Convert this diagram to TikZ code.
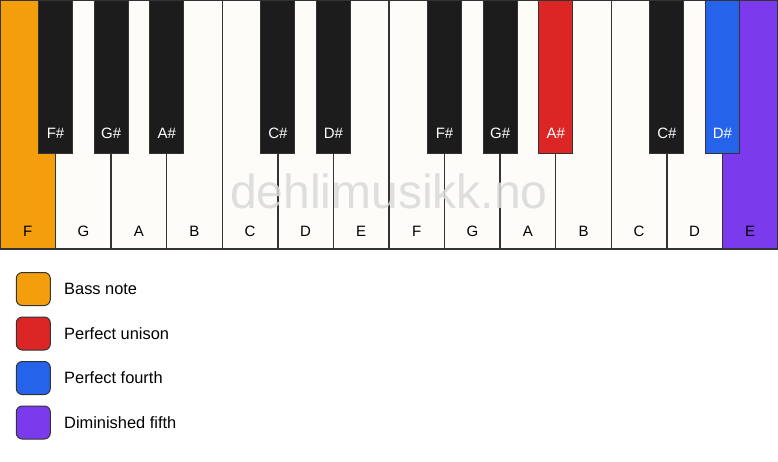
\documentclass[tikz,border=0pt]{standalone}
\usepackage{fontspec}
\setmainfont{Liberation Sans}
\definecolor{keywhite}{HTML}{FDFCF9}
\definecolor{keyblack}{HTML}{1C1C1C}
\definecolor{keyline}{HTML}{333333}
\definecolor{bassc}{HTML}{F59E0B}
\definecolor{unisonc}{HTML}{DC2626}
\definecolor{fourthc}{HTML}{2563EB}
\definecolor{dimc}{HTML}{7C3AED}
\definecolor{markc}{HTML}{D9D9D9}
\begin{document}
\begin{tikzpicture}[x=1pt,y=-1pt,
  whitekey/.style={draw=keyline,line width=1.3pt,fill=keywhite,minimum width=55.571pt,minimum height=249pt,inner sep=0pt,anchor=north west,outer sep=0pt},
  blackkey/.style={draw=keyline,line width=1pt,fill=keyblack,minimum width=34pt,minimum height=153pt,inner sep=0pt,anchor=north,outer sep=0pt},
  wlabel/.style={font=\fontsize{15}{18}\selectfont,text=black},
  blabel/.style={font=\fontsize{15}{18}\selectfont,text=white},
  legbox/.style={draw=keyline,line width=1pt,rounded corners=6pt,minimum width=34pt,minimum height=33pt,inner sep=0pt},
  legtext/.style={font=\fontsize{16.4}{19}\selectfont,anchor=west,inner sep=0pt}]
\useasboundingbox (0,0) rectangle (778,461);
\fill[white] (0,0) rectangle (778,461);
\def\w{55.571}
% white keys
\foreach \n/\l/\c in {0/F/bassc,1/G/keywhite,2/A/keywhite,3/B/keywhite,4/C/keywhite,5/D/keywhite,6/E/keywhite,7/F/keywhite,8/G/keywhite,9/A/keywhite,10/B/keywhite,11/C/keywhite,12/D/keywhite,13/E/dimc}{
  \node[whitekey,fill=\c] (w\n) at (\n*\w,0) {};
  \node[wlabel] (wl\n) at (\n*\w+\w/2,231) {\l};
}
% watermark
\node[font=\fontsize{48}{52}\selectfont,text=markc,opacity=0.85,anchor=base] (mark) at (389,208) {dehlimusikk.no};
% black keys
\foreach \n/\l/\c in {1/F\#/keyblack,2/G\#/keyblack,3/A\#/keyblack,5/C\#/keyblack,6/D\#/keyblack,8/F\#/keyblack,9/G\#/keyblack,10/A\#/unisonc,12/C\#/keyblack,13/D\#/fourthc}{
  \node[blackkey,fill=\c] (b\n) at (\n*\w,0) {};
  \node[blabel] (bl\n) at (\n*\w,133) {\l};
}
% legend
\foreach \i/\c/\t in {0/bassc/Bass note,1/unisonc/Perfect unison,2/fourthc/Perfect fourth,3/dimc/Diminished fifth}{
  \node[legbox,fill=\c] (lb\i) at (33.3,289+44.5*\i) {};
  \node[legtext] (lt\i) at (64,289+44.5*\i) {\t};
}
\end{tikzpicture}
\end{document}
